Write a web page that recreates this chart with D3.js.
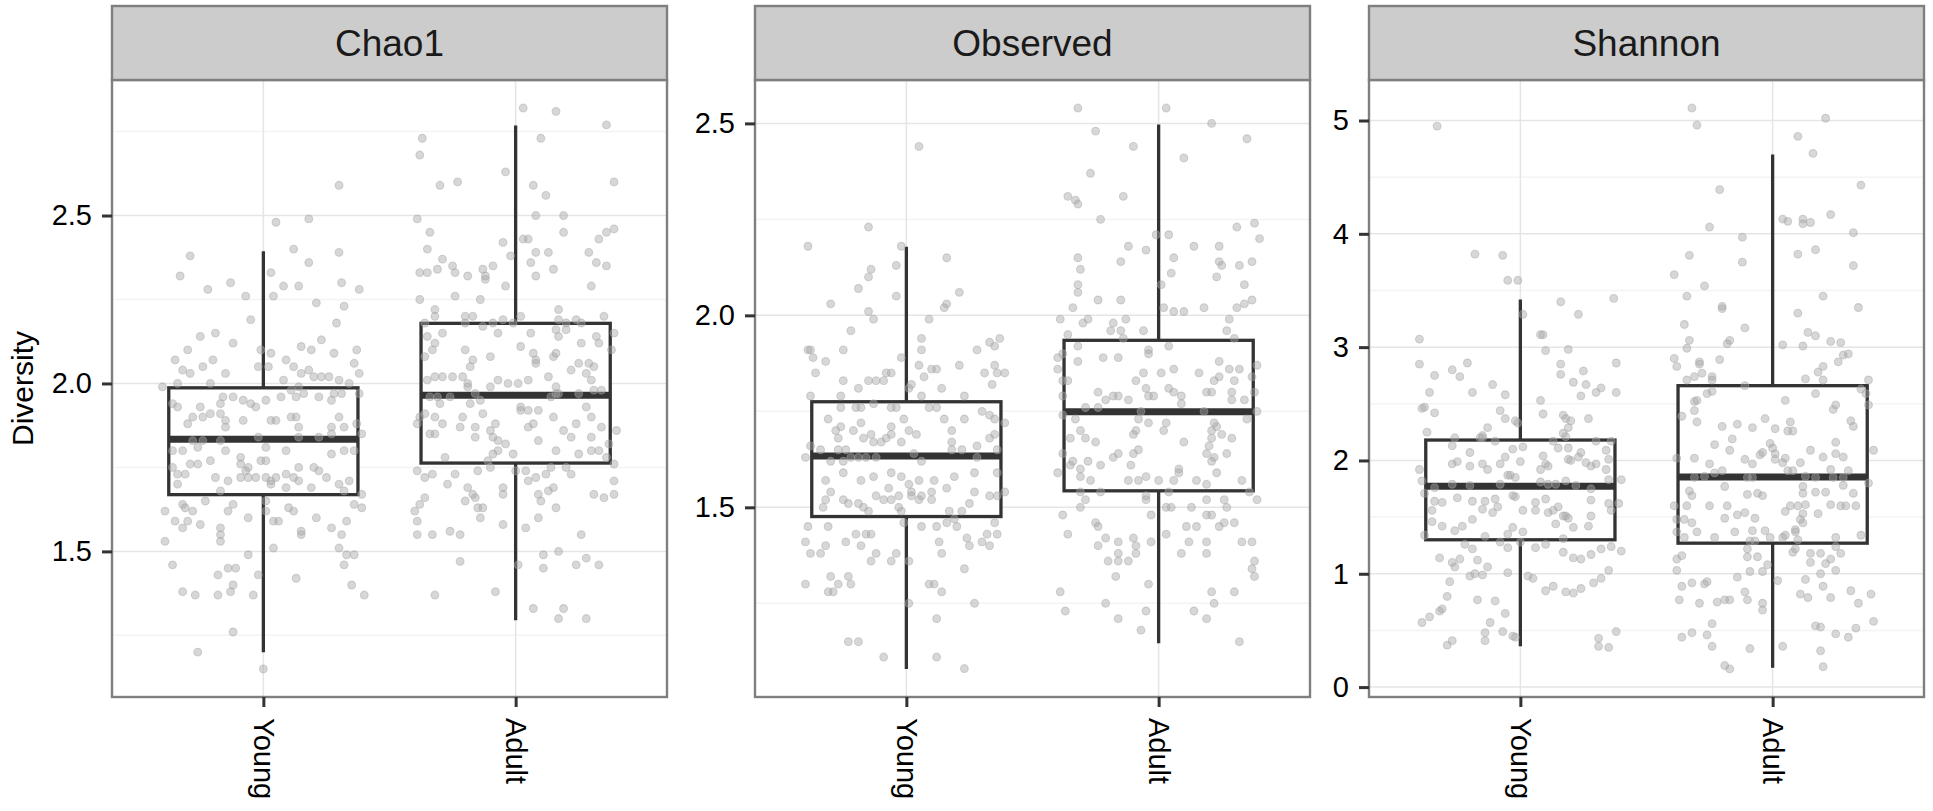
<!DOCTYPE html>
<html>
<head>
<meta charset="utf-8">
<script src="https://cdn.jsdelivr.net/npm/d3@7"></script>
<style>
  body { margin: 0; background: #fff; }
  svg { display: block; font-family: "Liberation Sans", Arial, Helvetica, sans-serif; }
</style>
</head>
<body>
<svg id="chart" width="1933" height="811"></svg>
<script>
// facets and groups
const facets = ["Chao1", "Observed", "Shannon"];
const groups = ["Young", "Adult"];
const yLabel = "Diversity";

// box stats: [lower whisker, Q1, median, Q3, upper whisker]
const chao1YoungBox = [1.20, 1.669, 1.834, 1.987, 2.394];
const chao1AdultBox = [1.295, 1.763, 1.965, 2.179, 2.768];
const observedYoungBox = [1.079, 1.476, 1.634, 1.775, 2.179];
const observedAdultBox = [1.146, 1.543, 1.749, 1.935, 2.497];
const shannonYoungBox = [0.36, 1.30, 1.773, 2.18, 3.42];
const shannonAdultBox = [0.17, 1.27, 1.854, 2.66, 4.70];

// y ticks per facet
const chao1Ticks = [1.5, 2.0, 2.5];
const observedTicks = [1.5, 2.0, 2.5];
const shannonTicks = [0, 1, 2, 3, 4, 5];

// jittered samples: [horizontal jitter (category units), value]
const chao1YoungPts = [[0.30,2.59],[0.05,2.48],[0.18,2.49],[-0.29,2.38],[0.12,2.40],[0.30,2.39],[0.18,2.36],[-0.33,2.32],[0.03,2.33],[-0.22,2.28],[-0.13,2.30],[-0.07,2.26],[0.04,2.26],[0.08,2.29],[0.14,2.29],[0.31,2.30],[0.38,2.28],[0.21,2.24],[0.32,2.23],[-0.05,2.19],[0.29,2.18],[0.23,2.13],[-0.25,2.14],[-0.19,2.15],[-0.12,2.12],[-0.30,2.10],[-0.35,2.07],[-0.20,2.07],[-0.32,2.04],[-0.29,2.03],[-0.24,2.05],[-0.15,2.03],[-0.01,2.10],[0.03,2.09],[-0.02,2.05],[0.02,2.05],[0.09,2.07],[0.12,2.05],[0.15,2.11],[0.19,2.10],[0.28,2.09],[0.37,2.10],[0.36,2.06],[0.38,2.03],[0.15,2.03],[0.18,2.04],[0.20,2.02],[0.23,2.02],[0.26,2.02],[0.30,2.01],[-0.40,1.99],[-0.34,2.00],[-0.21,2.00],[0.08,2.01],[0.11,1.98],[0.14,1.99],[0.16,1.97],[0.22,1.96],[0.28,1.97],[0.34,2.00],[0.38,1.97],[-0.36,1.94],[-0.34,1.93],[-0.25,1.93],[-0.17,1.94],[-0.16,1.96],[-0.12,1.96],[-0.08,1.95],[-0.05,1.94],[-0.03,1.93],[0.01,1.95],[0.07,1.96],[0.13,1.96],[0.27,1.95],[0.31,1.97],[-0.28,1.90],[-0.24,1.90],[-0.21,1.91],[-0.17,1.91],[-0.15,1.89],[-0.15,1.87],[-0.30,1.88],[-0.08,1.89],[0.03,1.89],[0.05,1.89],[0.11,1.90],[0.13,1.90],[0.14,1.87],[0.27,1.87],[0.30,1.90],[0.32,1.87],[0.37,1.88],[0.39,1.85],[-0.02,1.84],[0.14,1.84],[0.22,1.84],[0.27,1.85],[-0.28,1.83],[-0.24,1.83],[-0.17,1.83],[-0.36,1.80],[-0.32,1.80],[-0.26,1.81],[-0.15,1.80],[-0.09,1.78],[0.01,1.81],[0.09,1.80],[0.27,1.79],[0.32,1.80],[0.36,1.80],[-0.29,1.76],[-0.26,1.76],[-0.21,1.77],[-0.09,1.76],[-0.07,1.74],[-0.06,1.75],[-0.01,1.77],[0.01,1.77],[0.14,1.75],[0.20,1.75],[0.22,1.74],[-0.36,1.75],[-0.34,1.73],[-0.31,1.73],[-0.19,1.72],[-0.09,1.72],[-0.06,1.72],[-0.03,1.72],[0.01,1.72],[0.03,1.71],[0.05,1.72],[0.09,1.73],[0.12,1.72],[0.25,1.72],[0.30,1.70],[0.34,1.71],[-0.34,1.70],[-0.14,1.71],[0.03,1.70],[0.09,1.69],[0.14,1.71],[0.19,1.69],[0.32,1.68],[-0.17,1.68],[-0.39,1.62],[-0.35,1.59],[-0.32,1.64],[-0.31,1.63],[-0.28,1.62],[-0.32,1.57],[-0.30,1.59],[-0.25,1.58],[-0.23,1.65],[-0.14,1.62],[-0.12,1.64],[-0.06,1.60],[0.01,1.62],[0.01,1.65],[0.04,1.59],[0.06,1.59],[0.10,1.63],[0.12,1.62],[0.21,1.60],[0.27,1.57],[0.33,1.59],[0.36,1.64],[0.39,1.63],[0.39,1.67],[-0.39,1.53],[-0.17,1.57],[-0.17,1.55],[-0.17,1.53],[0.15,1.56],[0.15,1.55],[0.31,1.55],[-0.06,1.49],[0.04,1.51],[0.30,1.51],[0.33,1.49],[0.36,1.49],[-0.36,1.46],[-0.18,1.43],[-0.14,1.45],[-0.11,1.45],[-0.02,1.43],[0.13,1.42],[0.32,1.46],[-0.32,1.38],[-0.27,1.37],[-0.18,1.37],[-0.13,1.38],[-0.12,1.40],[-0.04,1.37],[0.35,1.40],[0.40,1.37],[-0.12,1.26],[-0.26,1.20],[0.00,1.15]];

const chao1AdultPts = [[0.03,2.82],[0.16,2.81],[0.36,2.77],[-0.37,2.73],[-0.38,2.68],[0.10,2.73],[-0.04,2.63],[-0.30,2.59],[-0.23,2.60],[0.07,2.59],[0.12,2.56],[0.39,2.60],[-0.39,2.49],[0.08,2.50],[0.19,2.50],[-0.34,2.45],[0.19,2.45],[-0.05,2.42],[0.03,2.43],[0.05,2.43],[0.36,2.45],[0.39,2.46],[0.33,2.43],[-0.35,2.40],[-0.29,2.37],[-0.02,2.38],[0.08,2.39],[0.13,2.39],[0.29,2.39],[0.32,2.36],[0.36,2.35],[-0.38,2.33],[-0.35,2.33],[-0.31,2.34],[-0.25,2.35],[-0.24,2.33],[-0.19,2.32],[-0.13,2.34],[-0.12,2.32],[-0.12,2.31],[-0.09,2.35],[0.06,2.36],[0.08,2.32],[0.15,2.34],[-0.04,2.29],[0.30,2.29],[-0.38,2.25],[-0.24,2.26],[-0.14,2.25],[-0.32,2.22],[-0.32,2.20],[0.17,2.22],[0.35,2.20],[-0.36,2.18],[-0.20,2.20],[-0.17,2.20],[-0.20,2.18],[-0.13,2.17],[-0.09,2.18],[-0.05,2.19],[-0.01,2.18],[0.02,2.20],[0.17,2.19],[0.20,2.18],[0.20,2.16],[0.24,2.19],[0.26,2.18],[-0.29,2.15],[-0.35,2.14],[-0.07,2.15],[0.06,2.15],[0.16,2.16],[0.17,2.14],[0.32,2.14],[0.39,2.15],[-0.32,2.12],[-0.33,2.10],[-0.20,2.10],[0.02,2.11],[0.26,2.12],[0.33,2.12],[-0.36,2.08],[-0.17,2.07],[-0.18,2.05],[-0.10,2.08],[0.07,2.09],[0.08,2.07],[0.08,2.06],[0.15,2.08],[0.16,2.09],[0.22,2.04],[0.25,2.06],[0.28,2.03],[0.29,2.06],[0.31,2.05],[0.38,2.10],[-0.32,2.02],[-0.29,2.02],[-0.25,2.02],[-0.21,2.02],[-0.19,2.00],[-0.10,1.99],[-0.07,2.01],[-0.03,2.00],[0.01,2.00],[0.05,2.01],[0.13,2.02],[0.16,1.99],[0.30,2.01],[-0.35,2.01],[-0.31,1.96],[-0.26,1.96],[-0.34,1.96],[-0.16,1.97],[-0.19,1.99],[-0.30,1.94],[-0.18,1.94],[-0.14,1.95],[0.02,1.93],[0.05,1.92],[0.02,1.92],[0.09,1.92],[0.14,1.96],[0.16,1.97],[0.17,1.97],[0.25,1.97],[0.31,1.98],[0.34,1.98],[0.28,1.93],[0.30,1.90],[-0.38,1.90],[-0.36,1.91],[-0.32,1.90],[-0.39,1.88],[-0.29,1.88],[-0.34,1.85],[-0.32,1.85],[-0.22,1.87],[-0.21,1.90],[-0.16,1.87],[-0.16,1.84],[-0.13,1.91],[-0.08,1.88],[-0.10,1.86],[-0.09,1.84],[-0.07,1.83],[-0.09,1.79],[-0.07,1.80],[-0.04,1.82],[-0.01,1.79],[0.05,1.87],[0.07,1.88],[0.09,1.83],[0.15,1.90],[0.16,1.80],[0.19,1.86],[0.22,1.84],[0.24,1.88],[0.25,1.79],[0.30,1.84],[0.34,1.87],[0.30,1.80],[0.33,1.80],[0.37,1.82],[0.40,1.86],[0.36,1.78],[-0.28,1.78],[-0.39,1.74],[-0.36,1.72],[-0.33,1.73],[-0.24,1.73],[-0.15,1.74],[-0.11,1.77],[-0.10,1.75],[0.00,1.74],[0.04,1.74],[0.05,1.71],[0.08,1.72],[0.12,1.73],[0.14,1.75],[0.20,1.75],[0.22,1.73],[0.39,1.76],[-0.27,1.70],[-0.19,1.69],[-0.16,1.66],[-0.17,1.67],[-0.05,1.69],[-0.05,1.67],[0.09,1.67],[0.10,1.65],[0.13,1.68],[0.15,1.69],[0.31,1.67],[0.35,1.66],[0.39,1.67],[0.39,1.71],[-0.36,1.66],[-0.38,1.64],[-0.20,1.65],[-0.40,1.62],[-0.39,1.59],[-0.15,1.63],[-0.13,1.63],[-0.14,1.60],[-0.05,1.58],[0.04,1.57],[0.09,1.60],[0.16,1.63],[-0.39,1.55],[-0.33,1.55],[-0.26,1.56],[-0.22,1.55],[0.26,1.55],[-0.22,1.47],[0.01,1.46],[0.11,1.49],[0.11,1.45],[0.17,1.50],[0.24,1.46],[0.28,1.48],[0.33,1.46],[-0.32,1.37],[-0.08,1.38],[0.07,1.33],[0.17,1.30],[0.19,1.33],[0.28,1.30]];

const observedYoungPts = [[0.05,2.44],[-0.15,2.23],[-0.39,2.18],[-0.02,2.18],[0.16,2.15],[-0.14,2.12],[-0.15,2.10],[-0.04,2.13],[-0.19,2.07],[0.21,2.06],[-0.30,2.03],[-0.04,2.05],[0.16,2.03],[0.15,2.02],[-0.15,2.01],[-0.13,1.99],[0.09,1.99],[-0.22,1.96],[0.37,1.94],[0.33,1.93],[0.35,1.92],[0.06,1.94],[0.06,1.91],[-0.39,1.91],[-0.38,1.91],[-0.25,1.91],[0.28,1.91],[-0.37,1.89],[-0.32,1.88],[-0.02,1.89],[0.05,1.87],[0.10,1.86],[0.12,1.86],[0.21,1.87],[0.35,1.87],[-0.36,1.85],[-0.08,1.85],[-0.06,1.85],[-0.12,1.83],[-0.15,1.83],[-0.09,1.83],[0.31,1.85],[0.36,1.85],[0.39,1.85],[-0.25,1.83],[-0.19,1.81],[0.01,1.81],[0.02,1.82],[0.07,1.84],[0.14,1.81],[0.34,1.82],[-0.38,1.79],[-0.26,1.79],[-0.13,1.77],[-0.06,1.76],[-0.04,1.76],[0.06,1.79],[0.23,1.79],[-0.26,1.76],[-0.20,1.76],[-0.18,1.76],[0.09,1.76],[0.12,1.76],[0.15,1.73],[0.23,1.73],[0.30,1.75],[0.33,1.74],[0.35,1.73],[-0.31,1.73],[-0.28,1.70],[-0.26,1.71],[-0.21,1.70],[-0.18,1.72],[-0.06,1.71],[-0.01,1.73],[0.01,1.70],[0.04,1.69],[0.18,1.70],[0.39,1.72],[0.35,1.69],[-0.27,1.68],[-0.17,1.68],[-0.14,1.69],[-0.10,1.67],[-0.13,1.67],[-0.02,1.67],[-0.06,1.69],[-0.08,1.68],[0.18,1.67],[0.28,1.66],[0.33,1.68],[-0.38,1.66],[-0.40,1.63],[-0.27,1.65],[-0.24,1.65],[-0.34,1.65],[0.18,1.65],[0.22,1.65],[0.36,1.65],[-0.30,1.62],[-0.25,1.62],[-0.22,1.63],[-0.19,1.63],[-0.16,1.63],[0.03,1.64],[0.28,1.63],[-0.12,1.63],[0.06,1.62],[-0.25,1.59],[-0.13,1.58],[-0.06,1.59],[-0.02,1.58],[0.19,1.58],[0.27,1.59],[0.36,1.59],[-0.32,1.57],[-0.18,1.57],[0.05,1.57],[0.11,1.57],[0.16,1.55],[0.01,1.56],[0.02,1.54],[-0.30,1.54],[-0.12,1.53],[-0.07,1.55],[-0.03,1.53],[0.02,1.53],[0.06,1.53],[0.10,1.54],[0.27,1.54],[0.33,1.53],[0.36,1.53],[0.39,1.54],[-0.32,1.52],[-0.25,1.52],[-0.23,1.51],[-0.19,1.51],[-0.09,1.52],[-0.06,1.52],[0.05,1.52],[0.10,1.52],[0.25,1.51],[-0.33,1.50],[-0.17,1.50],[-0.15,1.49],[-0.03,1.50],[-0.02,1.49],[0.17,1.49],[0.22,1.49],[0.19,1.47],[-0.01,1.46],[-0.39,1.45],[-0.31,1.45],[-0.20,1.43],[-0.16,1.43],[-0.14,1.43],[0.06,1.45],[0.12,1.45],[0.16,1.46],[0.20,1.45],[0.35,1.46],[0.36,1.43],[0.32,1.43],[-0.40,1.41],[-0.24,1.41],[0.13,1.41],[0.24,1.42],[0.30,1.41],[-0.38,1.38],[-0.34,1.38],[-0.32,1.40],[-0.18,1.40],[-0.14,1.36],[-0.12,1.38],[-0.06,1.36],[-0.04,1.38],[0.01,1.36],[0.14,1.38],[0.25,1.40],[0.33,1.40],[0.23,1.34],[-0.30,1.32],[-0.23,1.32],[-0.22,1.30],[-0.27,1.30],[-0.40,1.30],[-0.31,1.28],[-0.29,1.28],[0.09,1.30],[0.11,1.30],[0.14,1.28],[0.01,1.25],[0.27,1.25],[0.12,1.21],[-0.23,1.15],[-0.19,1.15],[-0.09,1.11],[0.12,1.11],[0.23,1.08]];

const observedAdultPts = [[-0.32,2.54],[0.03,2.54],[-0.25,2.48],[0.21,2.50],[-0.10,2.44],[0.35,2.46],[0.10,2.41],[-0.27,2.37],[-0.14,2.31],[-0.36,2.31],[-0.33,2.30],[-0.32,2.29],[-0.23,2.25],[0.31,2.23],[0.38,2.24],[0.40,2.20],[-0.12,2.18],[-0.05,2.17],[-0.01,2.21],[0.04,2.21],[0.14,2.18],[0.24,2.18],[-0.32,2.15],[-0.31,2.12],[-0.15,2.14],[0.06,2.15],[0.05,2.11],[0.24,2.14],[0.25,2.13],[0.32,2.13],[0.37,2.14],[0.23,2.10],[-0.32,2.08],[-0.32,2.06],[0.01,2.08],[0.34,2.08],[-0.24,2.04],[-0.15,2.04],[-0.34,2.02],[0.02,2.02],[0.06,2.01],[0.10,2.01],[0.18,2.02],[0.31,2.02],[0.34,2.03],[0.37,2.04],[-0.39,1.99],[-0.28,1.99],[-0.30,1.98],[-0.18,1.98],[-0.13,1.99],[0.28,1.99],[-0.36,1.95],[-0.19,1.96],[-0.15,1.96],[-0.14,1.94],[-0.06,1.96],[0.27,1.96],[-0.32,1.92],[-0.04,1.91],[0.04,1.92],[0.30,1.94],[-0.40,1.89],[-0.38,1.90],[-0.32,1.88],[-0.22,1.89],[-0.16,1.89],[-0.04,1.90],[0.24,1.88],[0.28,1.86],[0.32,1.86],[0.39,1.87],[-0.40,1.86],[-0.38,1.83],[-0.36,1.83],[-0.09,1.83],[-0.06,1.85],[0.01,1.85],[0.06,1.86],[0.16,1.85],[0.22,1.83],[0.24,1.84],[0.30,1.83],[0.37,1.84],[-0.38,1.79],[-0.24,1.80],[-0.21,1.78],[-0.18,1.79],[-0.16,1.79],[-0.12,1.78],[-0.05,1.81],[-0.04,1.79],[-0.02,1.79],[0.04,1.81],[0.06,1.80],[0.09,1.79],[0.09,1.77],[0.19,1.80],[0.21,1.80],[0.29,1.80],[0.29,1.78],[0.34,1.78],[0.38,1.80],[-0.38,1.74],[-0.33,1.73],[-0.29,1.76],[-0.24,1.76],[-0.07,1.75],[0.18,1.75],[0.35,1.73],[0.39,1.75],[-0.08,1.73],[-0.04,1.72],[0.03,1.72],[-0.31,1.70],[-0.29,1.68],[-0.25,1.67],[-0.35,1.68],[-0.09,1.70],[-0.10,1.69],[0.02,1.70],[0.10,1.67],[0.22,1.72],[0.21,1.70],[0.23,1.71],[0.25,1.69],[0.29,1.68],[0.21,1.68],[-0.38,1.64],[-0.34,1.62],[-0.35,1.61],[-0.28,1.62],[-0.23,1.61],[-0.18,1.63],[-0.16,1.64],[-0.11,1.61],[-0.10,1.64],[-0.08,1.65],[0.20,1.66],[0.19,1.64],[0.22,1.63],[0.27,1.64],[0.21,1.62],[-0.40,1.59],[-0.31,1.60],[-0.31,1.58],[-0.27,1.57],[-0.12,1.57],[-0.08,1.57],[-0.05,1.58],[0.00,1.57],[0.08,1.60],[0.08,1.59],[0.06,1.57],[0.15,1.57],[0.19,1.56],[0.23,1.59],[0.33,1.57],[-0.31,1.54],[-0.29,1.52],[-0.31,1.50],[-0.23,1.54],[-0.05,1.53],[-0.05,1.52],[0.04,1.54],[0.03,1.50],[0.05,1.50],[0.13,1.50],[0.19,1.52],[0.26,1.52],[0.27,1.50],[0.36,1.54],[0.39,1.52],[-0.38,1.48],[-0.25,1.46],[-0.24,1.45],[-0.03,1.48],[0.11,1.45],[0.15,1.45],[0.19,1.48],[0.21,1.48],[0.24,1.45],[0.26,1.46],[0.30,1.46],[-0.36,1.43],[-0.21,1.42],[-0.16,1.41],[-0.10,1.42],[-0.09,1.40],[-0.03,1.41],[0.03,1.43],[0.12,1.41],[0.19,1.41],[0.33,1.41],[0.37,1.41],[-0.24,1.40],[-0.16,1.38],[-0.09,1.38],[0.09,1.38],[0.19,1.38],[-0.20,1.36],[-0.16,1.36],[-0.12,1.36],[0.38,1.36],[0.37,1.34],[0.38,1.32],[-0.17,1.32],[-0.04,1.30],[-0.39,1.28],[-0.21,1.25],[0.21,1.28],[0.30,1.28],[0.22,1.25],[-0.37,1.23],[-0.05,1.23],[0.14,1.23],[-0.16,1.21],[0.19,1.21],[-0.07,1.18],[0.32,1.15]];

const shannonYoungPts = [[-0.33,4.95],[-0.18,3.82],[-0.07,3.81],[-0.05,3.59],[-0.01,3.59],[0.16,3.40],[0.37,3.43],[0.01,3.29],[0.23,3.29],[-0.40,3.07],[0.08,3.11],[0.09,3.11],[0.10,2.97],[0.19,2.98],[-0.40,2.85],[-0.21,2.86],[-0.27,2.80],[-0.24,2.74],[-0.34,2.75],[0.16,2.85],[0.16,2.76],[0.25,2.79],[0.38,2.86],[-0.36,2.60],[-0.19,2.60],[-0.11,2.67],[-0.06,2.58],[0.21,2.69],[0.26,2.67],[0.24,2.57],[0.30,2.60],[0.32,2.64],[0.38,2.60],[-0.39,2.46],[-0.38,2.47],[-0.34,2.42],[-0.08,2.44],[0.08,2.53],[0.09,2.41],[-0.06,2.37],[-0.02,2.35],[-0.01,2.33],[0.17,2.40],[0.18,2.37],[0.20,2.35],[0.27,2.37],[-0.37,2.25],[-0.26,2.20],[-0.15,2.22],[-0.13,2.29],[-0.15,2.20],[-0.10,2.17],[0.19,2.29],[0.18,2.21],[0.17,2.24],[-0.27,2.13],[-0.20,2.07],[-0.16,2.20],[-0.03,2.10],[0.01,2.12],[0.13,2.17],[0.15,2.11],[0.19,2.11],[0.24,2.07],[0.30,2.17],[0.34,2.09],[0.36,2.17],[-0.40,1.92],[-0.27,1.97],[-0.25,1.99],[-0.20,1.95],[-0.15,1.97],[-0.13,1.92],[-0.08,1.97],[-0.06,2.03],[-0.05,1.87],[-0.02,1.85],[0.00,1.99],[0.08,1.92],[0.09,2.04],[0.10,1.97],[0.11,1.95],[0.19,2.01],[0.20,2.00],[0.23,2.03],[0.26,1.98],[0.28,1.95],[0.30,1.97],[0.34,1.92],[0.35,2.01],[-0.39,1.82],[-0.34,1.76],[-0.27,1.79],[-0.20,1.78],[-0.08,1.79],[-0.04,1.87],[0.08,1.81],[0.11,1.79],[0.14,1.79],[0.18,1.82],[0.22,1.78],[0.28,1.75],[0.35,1.83],[0.40,1.83],[-0.38,1.71],[-0.34,1.64],[-0.31,1.63],[-0.25,1.67],[-0.19,1.64],[-0.14,1.64],[-0.10,1.66],[-0.03,1.69],[-0.02,1.68],[0.01,1.56],[0.06,1.63],[0.06,1.56],[0.10,1.66],[0.13,1.56],[0.15,1.59],[0.18,1.51],[0.28,1.65],[0.35,1.62],[0.39,1.62],[-0.35,1.56],[-0.35,1.46],[-0.31,1.42],[-0.26,1.38],[-0.23,1.42],[-0.19,1.48],[-0.15,1.57],[-0.11,1.54],[-0.09,1.59],[-0.03,1.41],[0.01,1.37],[0.11,1.54],[0.14,1.44],[0.17,1.51],[0.19,1.49],[0.21,1.41],[0.27,1.42],[0.28,1.51],[0.36,1.56],[-0.38,1.34],[-0.22,1.26],[-0.19,1.22],[-0.14,1.33],[-0.08,1.28],[-0.05,1.23],[-0.05,1.35],[0.00,1.28],[0.06,1.23],[0.10,1.26],[0.17,1.31],[0.17,1.19],[0.21,1.14],[0.24,1.13],[0.28,1.17],[0.32,1.22],[0.36,1.24],[0.40,1.20],[-0.32,1.14],[-0.27,1.10],[-0.26,1.06],[-0.24,1.13],[-0.17,1.12],[-0.13,1.06],[-0.20,0.98],[-0.18,1.00],[-0.15,0.99],[-0.05,1.01],[0.03,0.98],[0.05,0.96],[-0.28,0.93],[-0.29,0.80],[-0.17,0.77],[-0.10,0.76],[0.10,0.85],[0.13,0.89],[0.18,0.84],[0.21,0.83],[0.24,0.87],[0.29,0.92],[0.32,0.96],[0.35,1.03],[-0.39,0.57],[-0.36,0.62],[-0.32,0.67],[-0.31,0.69],[-0.12,0.57],[-0.06,0.65],[-0.29,0.37],[-0.27,0.41],[-0.14,0.48],[-0.14,0.41],[-0.07,0.49],[-0.03,0.45],[-0.02,0.44],[0.31,0.43],[0.31,0.36],[0.35,0.35],[0.38,0.49]];

const shannonAdultPts = [[-0.32,5.11],[-0.30,4.96],[0.21,5.02],[0.10,4.86],[0.16,4.71],[-0.21,4.39],[0.35,4.43],[0.04,4.13],[0.06,4.11],[0.12,4.13],[0.12,4.09],[0.15,4.10],[0.23,4.17],[-0.25,4.06],[-0.12,3.97],[0.32,4.01],[-0.33,3.81],[-0.12,3.75],[0.10,3.82],[0.17,3.86],[0.32,3.72],[-0.39,3.64],[-0.27,3.54],[-0.34,3.45],[0.20,3.45],[-0.20,3.34],[-0.20,3.36],[0.34,3.35],[-0.35,3.20],[-0.11,3.17],[0.10,3.30],[-0.33,3.06],[-0.34,2.99],[-0.18,3.03],[-0.17,3.06],[0.04,3.02],[0.12,3.01],[0.14,3.13],[0.17,3.10],[0.23,3.05],[0.27,3.04],[-0.39,2.90],[-0.38,2.83],[-0.29,2.87],[-0.29,2.85],[-0.21,2.89],[0.28,2.93],[0.30,2.94],[0.26,2.87],[0.20,2.83],[0.18,2.78],[-0.34,2.71],[-0.31,2.74],[-0.28,2.77],[-0.24,2.74],[-0.24,2.71],[0.13,2.72],[0.20,2.71],[-0.11,2.66],[-0.26,2.59],[-0.24,2.61],[-0.31,2.52],[-0.30,2.53],[-0.31,2.44],[0.17,2.59],[0.35,2.63],[0.38,2.71],[0.37,2.59],[0.38,2.49],[0.25,2.49],[0.24,2.45],[-0.36,2.39],[-0.30,2.34],[-0.20,2.30],[-0.14,2.32],[-0.08,2.29],[-0.03,2.37],[0.01,2.28],[0.05,2.53],[0.06,2.26],[0.07,2.34],[0.08,2.26],[0.31,2.35],[0.32,2.30],[-0.23,2.14],[-0.16,2.19],[-0.11,2.01],[-0.05,2.05],[-0.04,2.07],[-0.01,2.15],[0.00,2.11],[0.01,2.06],[0.01,2.01],[0.05,2.02],[0.11,1.98],[0.15,2.09],[0.20,2.03],[0.25,2.16],[0.25,2.06],[0.28,2.03],[0.40,2.09],[-0.31,2.02],[-0.38,2.02],[-0.17,2.09],[-0.25,1.97],[-0.23,1.89],[-0.20,1.91],[-0.08,1.97],[0.04,1.98],[0.06,1.91],[0.08,1.91],[0.23,1.92],[0.30,1.91],[-0.31,1.85],[-0.27,1.86],[-0.10,1.85],[-0.08,1.85],[0.13,1.86],[0.17,1.85],[0.24,1.85],[0.28,1.85],[0.38,1.80],[-0.33,1.73],[-0.32,1.69],[-0.19,1.77],[-0.10,1.70],[-0.06,1.71],[-0.04,1.69],[0.12,1.77],[0.12,1.71],[0.17,1.72],[0.21,1.72],[0.28,1.78],[0.32,1.71],[-0.39,1.60],[-0.34,1.60],[-0.25,1.60],[-0.18,1.60],[-0.19,1.49],[-0.14,1.52],[-0.11,1.54],[-0.07,1.49],[0.05,1.55],[0.07,1.60],[0.10,1.60],[0.12,1.53],[0.13,1.61],[0.11,1.48],[0.12,1.45],[0.18,1.53],[0.23,1.61],[0.27,1.60],[0.29,1.60],[0.33,1.60],[-0.38,1.48],[-0.35,1.48],[-0.32,1.45],[-0.38,1.37],[-0.30,1.37],[-0.15,1.37],[-0.08,1.38],[-0.03,1.38],[0.05,1.34],[0.09,1.37],[0.09,1.39],[-0.35,1.32],[-0.23,1.32],[-0.09,1.29],[-0.07,1.29],[-0.01,1.32],[0.04,1.32],[0.10,1.30],[0.25,1.32],[0.35,1.34],[-0.38,1.13],[-0.36,1.16],[-0.10,1.22],[-0.10,1.15],[-0.06,1.15],[-0.02,1.08],[0.08,1.19],[0.09,1.22],[0.15,1.18],[0.19,1.18],[0.23,1.13],[0.25,1.24],[0.27,1.18],[0.15,1.10],[0.21,1.09],[-0.38,1.03],[-0.14,0.97],[-0.09,1.02],[-0.04,1.02],[0.02,0.94],[0.13,0.95],[0.19,1.00],[0.25,1.03],[-0.36,0.89],[-0.32,0.92],[-0.27,0.91],[-0.26,0.93],[-0.11,0.84],[-0.37,0.77],[-0.29,0.74],[-0.22,0.75],[-0.19,0.77],[-0.17,0.77],[-0.10,0.77],[-0.04,0.74],[-0.04,0.68],[0.11,0.82],[0.14,0.79],[0.20,0.89],[0.23,0.79],[0.31,0.85],[0.34,0.74],[0.39,0.82],[0.40,0.58],[-0.36,0.44],[-0.32,0.48],[-0.26,0.46],[-0.24,0.56],[-0.24,0.36],[-0.09,0.34],[0.04,0.36],[0.17,0.54],[0.19,0.53],[0.19,0.32],[0.20,0.18],[0.25,0.47],[0.30,0.44],[0.33,0.52],[-0.19,0.19],[-0.17,0.16]];

// facet tables built from the arrays above
const panels = [
  { name: facets[0], ticks: chao1Ticks, fmt: d3.format(".1f"),
    box: { Young: chao1YoungBox, Adult: chao1AdultBox },
    pts: { Young: chao1YoungPts, Adult: chao1AdultPts } },
  { name: facets[1], ticks: observedTicks, fmt: d3.format(".1f"),
    box: { Young: observedYoungBox, Adult: observedAdultBox },
    pts: { Young: observedYoungPts, Adult: observedAdultPts } },
  { name: facets[2], ticks: shannonTicks, fmt: d3.format("d"),
    box: { Young: shannonYoungBox, Adult: shannonAdultBox },
    pts: { Young: shannonYoungPts, Adult: shannonAdultPts } }
];

// layout
const panelLefts = [112, 755, 1369];
const panelW = 555;
const stripTop = 6, panelTop = 80, panelBottom = 697;

const svg = d3.select("#chart");

panels.forEach((p, i) => {
  const x0 = panelLefts[i];
  const g = svg.append("g").attr("transform", `translate(${x0},0)`);

  // y domain = data range expanded 5% each side (ggplot default)
  const allVals = groups.flatMap(k => p.pts[k].map(d => d[1]).concat(p.box[k]));
  const [lo, hi] = d3.extent(allVals);
  const pad = (hi - lo) * 0.05;
  const y = d3.scaleLinear().domain([lo - pad, hi + pad]).range([panelBottom, panelTop]);

  const x = d3.scalePoint().domain(groups).range([0, panelW]).padding(0.6);
  const step = x.step();

  // panel background
  g.append("rect").attr("x", 0).attr("y", panelTop)
    .attr("width", panelW).attr("height", panelBottom - panelTop)
    .attr("fill", "#fff");

  // minor grid (halfway between major ticks)
  const half = (p.ticks[1] - p.ticks[0]) / 2;
  const minor = [p.ticks[0] - half].concat(p.ticks.map(t => t + half))
    .filter(v => v > y.domain()[0] && v < y.domain()[1]);
  g.selectAll(".minor").data(minor).join("line")
    .attr("x1", 0).attr("x2", panelW)
    .attr("y1", d => y(d)).attr("y2", d => y(d))
    .attr("stroke", "#f4f4f4").attr("stroke-width", 1.5);

  // major grid
  g.selectAll(".major").data(p.ticks).join("line")
    .attr("x1", 0).attr("x2", panelW)
    .attr("y1", d => y(d)).attr("y2", d => y(d))
    .attr("stroke", "#e5e5e5").attr("stroke-width", 1.5);
  g.selectAll(".vgrid").data(groups).join("line")
    .attr("x1", d => x(d)).attr("x2", d => x(d))
    .attr("y1", panelTop).attr("y2", panelBottom)
    .attr("stroke", "#e5e5e5").attr("stroke-width", 1.5);

  // boxplots
  groups.forEach(k => {
    const [wLo, q1, med, q3, wHi] = p.box[k];
    const cx = x(k), hw = step * 0.375;
    const bg = g.append("g").attr("stroke", "#333333").attr("fill", "none");
    bg.append("line").attr("x1", cx).attr("x2", cx).attr("y1", y(q3)).attr("y2", y(wHi)).attr("stroke-width", 3.3);
    bg.append("line").attr("x1", cx).attr("x2", cx).attr("y1", y(q1)).attr("y2", y(wLo)).attr("stroke-width", 3.3);
    bg.append("rect").attr("x", cx - hw).attr("y", y(q3))
      .attr("width", hw * 2).attr("height", y(q1) - y(q3))
      .attr("fill", "#fff").attr("stroke-width", 3.3);
    bg.append("line").attr("x1", cx - hw).attr("x2", cx + hw)
      .attr("y1", y(med)).attr("y2", y(med)).attr("stroke-width", 7);
  });

  // jittered points (fill and outline both translucent, like ggplot's alpha dots)
  groups.forEach(k => {
    g.append("g").selectAll("circle").data(p.pts[k]).join("circle")
      .attr("cx", d => x(k) + d[0] * step)
      .attr("cy", d => y(d[1]))
      .attr("r", 3.9)
      .attr("fill", "#a6a6a6")
      .attr("fill-opacity", 0.45)
      .attr("stroke", "#a6a6a6")
      .attr("stroke-opacity", 0.45)
      .attr("stroke-width", 1.1);
  });

  // panel border
  g.append("rect").attr("x", 0).attr("y", panelTop)
    .attr("width", panelW).attr("height", panelBottom - panelTop)
    .attr("fill", "none").attr("stroke", "#7f7f7f").attr("stroke-width", 2.4);

  // strip
  g.append("rect").attr("x", 0).attr("y", stripTop)
    .attr("width", panelW).attr("height", panelTop - stripTop)
    .attr("fill", "#cccccc").attr("stroke", "#7f7f7f").attr("stroke-width", 2.4);
  g.append("text").attr("x", panelW / 2).attr("y", (stripTop + panelTop) / 2)
    .attr("text-anchor", "middle").attr("dominant-baseline", "central")
    .attr("font-size", 37).attr("fill", "#1a1a1a").text(p.name);

  // y axis
  const yAxis = d3.axisLeft(y).tickValues(p.ticks).tickFormat(p.fmt)
    .tickSize(10).tickPadding(10);
  const ya = g.append("g").call(yAxis);
  ya.select(".domain").remove();
  ya.selectAll(".tick line").attr("stroke", "#333333").attr("stroke-width", 3);
  ya.selectAll(".tick text").attr("font-size", 29).attr("fill", "#000")
    .attr("font-family", "Liberation Sans, Arial, sans-serif");

  // x axis (labels rotated to read downward)
  const xAxis = d3.axisBottom(x).tickSize(10).tickPadding(0);
  const xa = g.append("g").attr("transform", `translate(0,${panelBottom})`).call(xAxis);
  xa.select(".domain").remove();
  xa.selectAll(".tick line").attr("stroke", "#333333").attr("stroke-width", 3);
  xa.selectAll(".tick text")
    .attr("font-size", 29).attr("fill", "#000")
    .attr("font-family", "Liberation Sans, Arial, sans-serif")
    .attr("text-anchor", "start")
    .attr("dy", null)
    .attr("dominant-baseline", "central")
    .attr("transform", "translate(0,21) rotate(90)")
    .attr("y", 0);
});

// y axis title
svg.append("text")
  .attr("transform", `translate(22,${(panelTop + panelBottom) / 2}) rotate(-90)`)
  .attr("text-anchor", "middle").attr("dominant-baseline", "central")
  .attr("font-size", 30).attr("fill", "#000").text(yLabel);
</script>
